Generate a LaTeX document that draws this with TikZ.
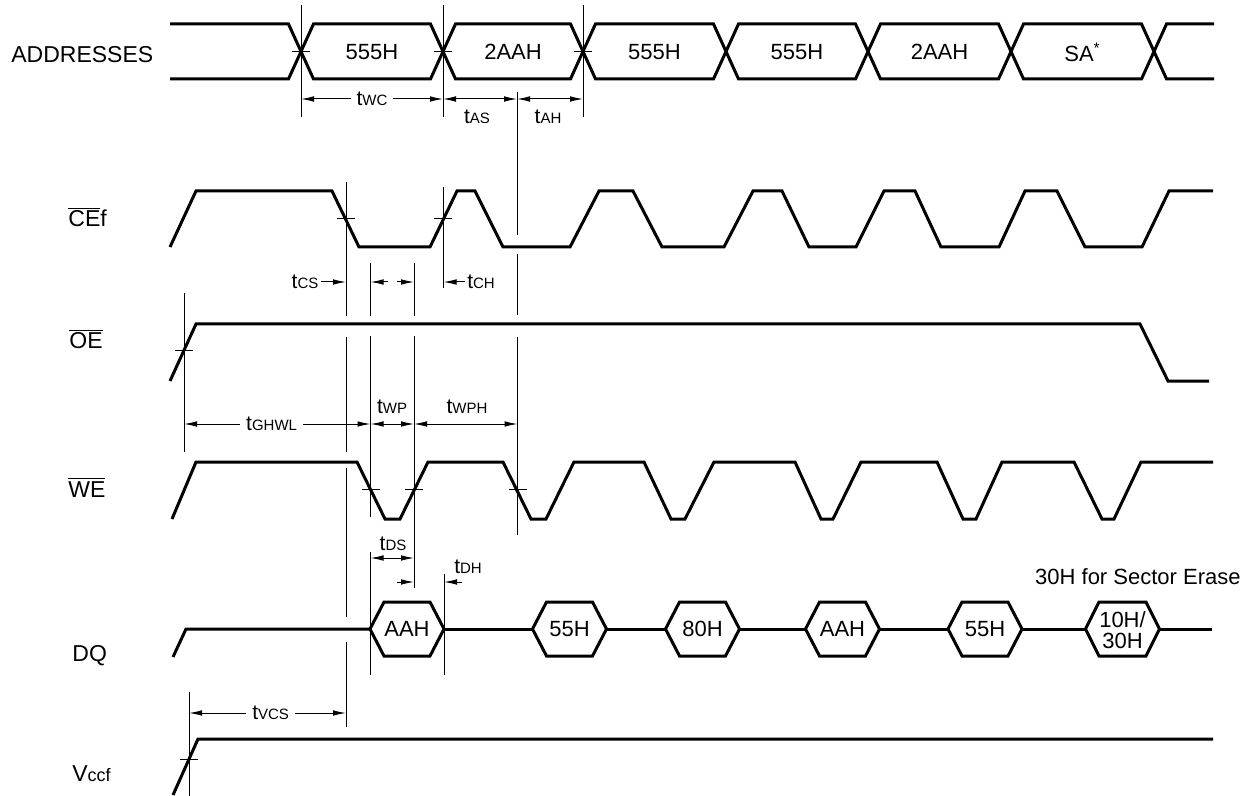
\documentclass[tikz,border=0pt]{standalone}
\usepackage{fontspec}
\setmainfont{Liberation Sans}
\usetikzlibrary{arrows.meta}
\newcommand{\tlab}[1]{{\fontsize{10.5}{12}\selectfont t}{\fontsize{7.5}{9}\selectfont #1}}
\begin{document}
\begin{tikzpicture}[x=0.5pt,y=-0.5pt,
  sig/.style={line width=1.5pt,line join=miter},
  thinln/.style={line width=0.5pt},
  dimarrow/.style={line width=0.5pt,-{Latex[length=6.5pt,width=2.8pt]}},
  dimboth/.style={line width=0.5pt,{Latex[length=6.5pt,width=2.8pt]}-{Latex[length=6.5pt,width=2.8pt]}},
  vlbl/.style={font=\fontsize{11}{13}\selectfont, inner sep=0pt},
  sname/.style={font=\fontsize{11.5}{13}\selectfont, anchor=base west, inner sep=0pt},
  tl/.style={inner sep=0pt},
  gaplbl/.style={fill=white, inner xsep=3pt, inner ysep=1pt}
]
\useasboundingbox (0,0) rectangle (1251,796);

% ---------- signal names ----------
\node[sname] (nAddr) at (11,63) {ADDRESSES};
\node[sname] (nCE) at (68,227) {$\overline{\mbox{CE}}$f};
\node[sname] (nOE) at (69,349) {$\overline{\mbox{OE}}$};
\node[sname] (nWE) at (68,497) {$\overline{\mbox{WE}}$};
\node[sname] (nDQ) at (72,661) {DQ};
\node[sname] (nVcc) at (72,781) {V{\fontsize{9}{10}\selectfont ccf}};

% ---------- address bus ----------
\draw[sig] (170,24) -- (288.5,24) -- (313.5,79) -- (430.5,79) -- (455.5,24) -- (570.5,24) -- (595.5,79)
  -- (713.5,79) -- (738.5,24) -- (855.5,24) -- (880.5,79) -- (998.5,79) -- (1023.5,24) -- (1141.5,24)
  -- (1166.5,79) -- (1214,79);
\draw[sig] (170,79) -- (288.5,79) -- (313.5,24) -- (430.5,24) -- (455.5,79) -- (570.5,79) -- (595.5,24)
  -- (713.5,24) -- (738.5,79) -- (855.5,79) -- (880.5,24) -- (998.5,24) -- (1023.5,79) -- (1141.5,79)
  -- (1166.5,24) -- (1214,24);
\node[vlbl] (a1) at (372,52) {555H};
\node[vlbl] (a2) at (513,52) {2AAH};
\node[vlbl] (a3) at (654.5,52) {555H};
\node[vlbl] (a4) at (797,52) {555H};
\node[vlbl] (a5) at (939.5,52) {2AAH};
\node[vlbl] (a6) at (1082.5,52) {SA\textsuperscript{*}};

% bus crossing marks and reference lines
\foreach \x in {301,443,583}{
  \draw[thinln] (\x,5) -- (\x,117);
  \draw[thinln] ({\x-9},51.5) -- ({\x+9},51.5);
}
\draw[dimboth] (301,99) -- (443,99) node[midway,gaplbl] (tWC) {\tlab{WC}};
\draw[dimboth] (443,99) -- (517,99);
\draw[dimboth] (517,99) -- (583,99);
\node[tl] (tAS) at (477,117) {\tlab{AS}};
\node[tl] (tAH) at (548,117) {\tlab{AH}};

% ---------- CEf ----------
\draw[sig] (170,247) -- (196,191) -- (332,191) -- (359,247) -- (430,247) -- (457,191) -- (475,191)
  -- (503,247) -- (570,247) -- (599,191) -- (633,191) -- (662,247) -- (724,247) -- (753,191)
  -- (782,191) -- (809,247) -- (856,247) -- (884,191) -- (915,191) -- (941,247) -- (999,247)
  -- (1025,191) -- (1057,191) -- (1085,247) -- (1142,247) -- (1169,191) -- (1213,191);
\draw[thinln] (337,219) -- (355,219);
\draw[thinln] (434,219) -- (452,219);

% ---------- OE ----------
\draw[sig] (170,381) -- (196,324) -- (1140,324) -- (1168,381) -- (1209,381);
\draw[thinln] (175,350) -- (193,350);

% ---------- WE ----------
\draw[sig] (172,519) -- (196,462) -- (357,462) -- (385,519) -- (400,519) -- (428,462) -- (503,462)
  -- (531,519) -- (546,519) -- (574,462) -- (644,462) -- (671,519) -- (685,519) -- (714,462)
  -- (795,462) -- (821,519) -- (833,519) -- (861,462) -- (937,462) -- (963,519) -- (976,519)
  -- (1002,462) -- (1074,462) -- (1102,519) -- (1114,519) -- (1141,462) -- (1213,462);
\draw[thinln] (362,489.5) -- (380,489.5);
\draw[thinln] (405,489.5) -- (423,489.5);
\draw[thinln] (509,489.5) -- (527,489.5);

% ---------- DQ ----------
\draw[sig] (173,657) -- (186,629) -- (370,629);
\draw[sig] (444,629) -- (532.5,629);
\draw[sig] (606.5,629) -- (665.5,629);
\draw[sig] (739.5,629) -- (805.5,629);
\draw[sig] (879.5,629) -- (948,629);
\draw[sig] (1022,629) -- (1085.5,629);
\draw[sig] (1159.5,629) -- (1212,629);
\foreach \c/\t/\n in {407/AAH/d1, 569.5/55H/d2, 702.5/80H/d3, 842.5/AAH/d4, 985/55H/d5}{
  \draw[sig] ({\c-37},629) -- ({\c-23},602) -- ({\c+23},602) -- ({\c+37},629) -- ({\c+23},656) -- ({\c-23},656) -- cycle;
  \node[vlbl] (\n) at (\c,629) {\t};
}
\draw[sig] (1085.5,629) -- (1099,602) -- (1146,602) -- (1159.5,629) -- (1146,656) -- (1099,656) -- cycle;
\node[vlbl, align=center, font=\fontsize{11}{10.5}\selectfont] (d6) at (1122.5,630) {10H/\\30H};
\node[vlbl, anchor=east] (sect) at (1241,577) {30H for Sector Erase};

% ---------- Vccf ----------
\draw[sig] (173,795) -- (198,739) -- (1213,739);
\draw[thinln] (180,759) -- (198,759);

% ---------- vertical reference lines ----------
\draw[thinln] (346,182) -- (346,316) (346,337) -- (346,452) (346,468) -- (346,617) (346,642) -- (346,727);
\draw[thinln] (370.5,263) -- (370.5,316) (370.5,336) -- (370.5,517) (370.5,552) -- (370.5,675);
\draw[thinln] (414,263) -- (414,316) (414,336) -- (414,588);
\draw[thinln] (443.5,187) -- (443.5,288);
\draw[thinln] (444,574) -- (444,675);
\draw[thinln] (517.5,92) -- (517.5,235) (517.5,254) -- (517.5,315) (517.5,337) -- (517.5,535);
\draw[thinln] (184,293) -- (184,452);
\draw[thinln] (189,692) -- (189,796);

% ---------- timing dimensions ----------
\node[tl] (tCS) at (305,282) {\tlab{CS}};
\draw[dimarrow] (tCS.east) ++(2,0) -- (346,282);
\draw[dimarrow] (388,282) -- (370.5,282);
\draw[dimarrow] (397,282) -- (414,282);
\node[tl] (tCH) at (481,282) {\tlab{CH}};
\draw[dimarrow] (tCH.west) ++(-2,0) -- (443.5,282);

\draw[dimboth] (184,424) -- (370.5,424) node[pos=0.47,gaplbl] (tGHWL) {\tlab{GHWL}};
\draw[dimboth] (370.5,424) -- (414,424);
\draw[dimboth] (414,424) -- (517.5,424);
\node[tl] (tWP) at (392,407) {\tlab{WP}};
\node[tl] (tWPH) at (467,407) {\tlab{WPH}};

\draw[dimboth] (370.5,558) -- (414,558);
\node[tl] (tDS) at (393,544) {\tlab{DS}};
\draw[dimarrow] (397,582) -- (414,582);
\draw[dimarrow] (462,582) -- (444,582);
\node[tl] (tDH) at (468,567) {\tlab{DH}};

\draw[dimboth] (189,713) -- (346,713) node[pos=0.52,gaplbl] (tVCS) {\tlab{VCS}};
\end{tikzpicture}
\end{document}
